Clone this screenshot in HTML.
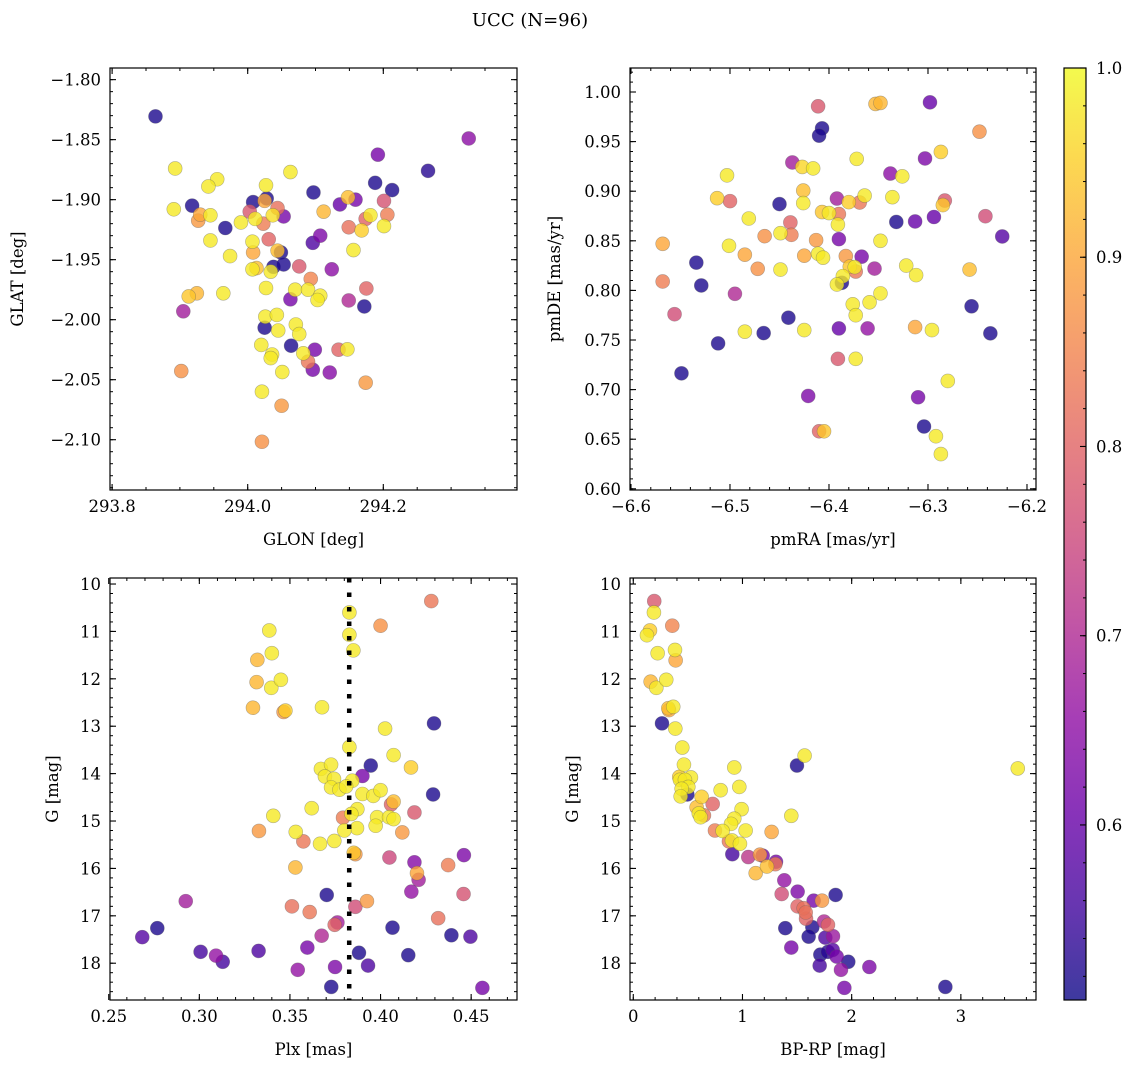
<!DOCTYPE html>
<html><head><meta charset="utf-8"><style>
body{margin:0;background:#fff;}
svg text{font-family:"DejaVu Serif","Liberation Serif",serif;fill:#000;}
</style></head><body>
<svg id="fig" width="1136" height="1067" xmlns="http://www.w3.org/2000/svg">
<defs><linearGradient id="plasma" x1="0" y1="1" x2="0" y2="0"></linearGradient></defs>
<text x="530" y="26" font-size="18" text-anchor="middle">UCC (N=96)</text>
</svg>
<script>
// ---- Panel 1: GLON vs GLAT ----
const p1x=[293.864,294.326,294.192,294.266,293.893,294.063,293.955,293.942,294.027,294.188,294.213,294.097,293.891,293.918,294.008,294.028,294.025,294.148,294.136,294.159,294.201,294.003,294.044,294.053,294.037,294.011,294.023,293.990,293.930,293.927,293.945,294.112,294.174,294.181,294.206,294.168,294.201,294.149,293.967,293.945,294.031,294.007,294.096,294.107,294.156,293.974,294.008,294.049,294.044,294.038,294.053,294.076,294.007,294.013,294.034,294.124,294.093,294.027,294.070,294.089,294.107,294.103,294.063,294.175,294.149,294.172,293.913,293.925,293.964,293.905,294.026,294.043,294.025,294.045,294.071,294.076,294.020,294.064,294.036,294.034,294.082,294.099,294.134,294.147,294.089,294.096,294.121,294.051,293.902,294.174,294.021,294.050,294.021];
const p1y=[-1.8306,-1.849,-1.8625,-1.876,-1.874,-1.877,-1.883,-1.889,-1.888,-1.886,-1.892,-1.894,-1.908,-1.905,-1.902,-1.899,-1.901,-1.898,-1.904,-1.900,-1.901,-1.910,-1.907,-1.914,-1.913,-1.916,-1.920,-1.919,-1.9125,-1.9175,-1.913,-1.910,-1.916,-1.913,-1.9125,-1.9256,-1.922,-1.923,-1.9236,-1.934,-1.933,-1.935,-1.936,-1.930,-1.942,-1.947,-1.944,-1.944,-1.9425,-1.956,-1.954,-1.9556,-1.958,-1.957,-1.960,-1.958,-1.966,-1.9736,-1.975,-1.975,-1.980,-1.9836,-1.983,-1.974,-1.984,-1.989,-1.9806,-1.978,-1.978,-1.993,-1.9975,-1.996,-2.0067,-2.009,-2.004,-2.012,-2.021,-2.0217,-2.029,-2.032,-2.028,-2.025,-2.025,-2.0247,-2.035,-2.0417,-2.044,-2.0436,-2.0428,-2.0525,-2.060,-2.0717,-2.1017];
const p1c=[0.52,0.65,0.62,0.53,0.98,0.98,0.98,0.98,0.98,0.52,0.52,0.52,0.98,0.52,0.52,0.52,0.90,0.93,0.60,0.62,0.77,0.78,0.82,0.62,0.97,0.98,0.84,0.98,0.90,0.88,0.98,0.92,0.80,0.98,0.84,0.95,0.98,0.82,0.52,0.98,0.80,0.98,0.57,0.63,0.98,0.98,0.90,0.52,0.93,0.52,0.52,0.78,0.98,0.93,0.98,0.65,0.85,0.98,0.98,0.98,0.98,0.98,0.62,0.80,0.70,0.52,0.94,0.92,0.98,0.68,0.98,0.98,0.52,0.98,0.98,0.98,0.98,0.52,0.98,0.98,0.98,0.62,0.80,0.98,0.83,0.62,0.64,0.98,0.87,0.88,0.98,0.88,0.87];
// ---- Panel 2: pmRA vs pmDE ----
const p2x=[-6.411,-6.353,-6.348,-6.298,-6.407,-6.410,-6.248,-6.372,-6.287,-6.303,-6.437,-6.427,-6.416,-6.503,-6.338,-6.326,-6.513,-6.500,-6.426,-6.426,-6.450,-6.392,-6.380,-6.369,-6.364,-6.336,-6.283,-6.285,-6.481,-6.407,-6.400,-6.390,-6.391,-6.439,-6.332,-6.313,-6.294,-6.242,-6.465,-6.438,-6.449,-6.413,-6.390,-6.348,-6.225,-6.568,-6.501,-6.485,-6.425,-6.411,-6.406,-6.383,-6.367,-6.534,-6.472,-6.449,-6.379,-6.373,-6.374,-6.354,-6.322,-6.312,-6.258,-6.568,-6.529,-6.386,-6.387,-6.392,-6.495,-6.348,-6.359,-6.376,-6.373,-6.556,-6.256,-6.441,-6.485,-6.466,-6.425,-6.390,-6.361,-6.313,-6.296,-6.237,-6.512,-6.391,-6.373,-6.549,-6.280,-6.421,-6.310,-6.410,-6.405,-6.304,-6.292,-6.287];
const p2y=[0.9856,0.988,0.989,0.9896,0.9634,0.956,0.960,0.9326,0.9396,0.933,0.929,0.9245,0.923,0.916,0.9178,0.915,0.893,0.890,0.9007,0.888,0.887,0.8926,0.889,0.8886,0.8956,0.894,0.8906,0.886,0.8725,0.879,0.878,0.877,0.8664,0.8685,0.869,0.8695,0.874,0.8748,0.8547,0.856,0.8577,0.8507,0.8517,0.850,0.8544,0.847,0.845,0.836,0.835,0.837,0.833,0.8346,0.834,0.828,0.8218,0.821,0.824,0.819,0.8235,0.822,0.825,0.8154,0.821,0.809,0.805,0.8144,0.8077,0.806,0.7966,0.797,0.788,0.786,0.775,0.776,0.784,0.7725,0.7584,0.757,0.760,0.7617,0.7617,0.763,0.760,0.7567,0.7466,0.731,0.731,0.7164,0.7087,0.6936,0.6923,0.658,0.658,0.6628,0.653,0.635];
const p2c=[0.78,0.92,0.92,0.60,0.52,0.52,0.87,0.98,0.95,0.63,0.68,0.96,0.98,0.98,0.65,0.98,0.95,0.80,0.93,0.98,0.52,0.68,0.95,0.83,0.98,0.98,0.78,0.94,0.98,0.94,0.98,0.83,0.98,0.80,0.52,0.60,0.60,0.76,0.87,0.84,0.98,0.88,0.62,0.98,0.58,0.90,0.98,0.90,0.90,0.98,0.98,0.88,0.62,0.52,0.87,0.98,0.94,0.83,0.98,0.68,0.98,0.98,0.93,0.84,0.52,0.98,0.52,0.98,0.70,0.98,0.98,0.98,0.98,0.76,0.52,0.52,0.98,0.52,0.98,0.60,0.66,0.90,0.98,0.52,0.52,0.78,0.98,0.52,0.98,0.63,0.62,0.80,0.94,0.52,0.98,0.98];
// ---- Panel 3: Plx vs G ----
const p3x=[0.428,0.3828,0.400,0.3828,0.385,0.3386,0.340,0.332,0.3316,0.3397,0.345,0.3296,0.3465,0.3475,0.3677,0.3828,0.4025,0.4295,0.4072,0.3946,0.4168,0.3671,0.3727,0.390,0.3693,0.3743,0.3844,0.3727,0.3773,0.381,0.390,0.396,0.400,0.4058,0.4072,0.429,0.362,0.3872,0.3839,0.3793,0.3981,0.4047,0.4072,0.4187,0.3408,0.3973,0.387,0.380,0.3329,0.3532,0.412,0.3574,0.3666,0.3745,0.3861,0.3852,0.4049,0.4187,0.446,0.4373,0.4201,0.421,0.353,0.417,0.4458,0.3703,0.2925,0.3511,0.3609,0.3861,0.3925,0.4318,0.3762,0.3747,0.4066,0.2768,0.2685,0.3675,0.4391,0.4496,0.3007,0.3327,0.3596,0.3881,0.4153,0.3092,0.3129,0.3543,0.3749,0.3931,0.3728,0.4562];
const p3y=[10.36,10.60,10.88,11.07,11.40,10.98,11.46,11.60,12.07,12.19,12.02,12.61,12.70,12.67,12.60,13.44,13.05,12.94,13.61,13.83,13.87,13.90,13.81,14.05,14.06,14.11,14.15,14.29,14.34,14.27,14.43,14.47,14.35,14.65,14.59,14.44,14.73,14.75,14.85,14.93,14.92,14.92,14.96,14.82,14.89,15.10,15.15,15.20,15.21,15.23,15.24,15.43,15.48,15.42,15.70,15.67,15.77,15.87,15.72,15.93,16.10,16.24,15.98,16.49,16.54,16.56,16.69,16.80,16.92,16.81,16.69,17.05,17.14,17.19,17.25,17.26,17.45,17.42,17.41,17.44,17.76,17.74,17.67,17.78,17.83,17.84,17.97,18.14,18.08,18.05,18.50,18.52];
const p3c=[0.83,0.98,0.87,0.98,0.98,0.98,0.98,0.92,0.92,0.98,0.98,0.92,0.88,0.95,0.98,0.98,0.98,0.52,0.98,0.52,0.95,0.98,0.98,0.62,0.98,0.98,0.98,0.98,0.98,0.98,0.98,0.98,0.98,0.80,0.93,0.52,0.98,0.98,0.98,0.84,0.98,0.98,0.98,0.78,0.98,0.98,0.98,0.98,0.88,0.98,0.88,0.83,0.98,0.98,0.88,0.94,0.75,0.64,0.63,0.84,0.90,0.68,0.92,0.66,0.77,0.52,0.68,0.82,0.83,0.76,0.88,0.82,0.68,0.80,0.52,0.52,0.58,0.70,0.52,0.57,0.56,0.57,0.62,0.52,0.52,0.66,0.56,0.66,0.63,0.57,0.52,0.62];
const plxRef=[0.3827];
// ---- Panel 4: BP-RP vs G ----
const p4x=[0.192,0.189,0.357,0.153,0.125,0.223,0.382,0.388,0.159,0.211,0.302,0.327,0.366,0.321,0.263,0.385,0.449,0.464,1.569,1.499,3.521,0.925,0.421,0.528,0.427,0.473,0.504,0.443,0.434,0.495,0.800,0.971,0.626,0.727,0.580,0.647,0.600,0.617,0.992,1.447,0.925,0.895,1.029,1.267,0.748,0.818,0.876,0.904,0.977,0.907,1.053,1.160,1.185,1.307,1.301,1.224,1.121,1.383,1.359,1.505,1.853,1.652,1.728,1.505,1.560,1.579,1.582,1.747,1.783,1.640,1.392,1.606,1.759,1.829,1.447,1.713,1.783,1.826,1.863,1.969,1.707,1.902,2.162,1.933,2.858];
const p4y=[10.36,10.60,10.88,10.98,11.08,11.46,11.39,11.61,12.06,12.19,12.02,12.66,12.59,12.62,12.94,13.05,13.45,13.81,13.62,13.83,13.89,13.87,14.07,14.08,14.13,14.13,14.28,14.32,14.48,14.44,14.35,14.28,14.49,14.64,14.71,14.88,14.84,14.92,14.75,14.89,14.95,15.06,15.20,15.23,15.20,15.21,15.43,15.41,15.48,15.70,15.76,15.71,15.73,15.86,15.91,15.96,16.10,16.25,16.54,16.49,16.56,16.68,16.68,16.80,16.84,16.93,17.06,17.12,17.19,17.24,17.26,17.44,17.46,17.43,17.67,17.82,17.76,17.72,17.86,17.97,18.05,18.14,18.08,18.52,18.50];
const p4c=[0.78,0.98,0.85,0.95,0.98,0.98,0.98,0.90,0.92,0.98,0.98,0.90,0.98,0.93,0.52,0.98,0.98,0.98,0.98,0.52,0.98,0.98,0.95,0.98,0.98,0.98,0.98,0.98,0.98,0.52,0.98,0.98,0.95,0.80,0.93,0.83,0.98,0.98,0.98,0.98,0.98,0.98,0.98,0.90,0.84,0.98,0.83,0.98,0.98,0.56,0.72,0.88,0.62,0.62,0.83,0.93,0.92,0.66,0.76,0.63,0.52,0.62,0.88,0.80,0.82,0.82,0.80,0.70,0.80,0.52,0.52,0.52,0.57,0.67,0.62,0.52,0.53,0.58,0.62,0.52,0.56,0.66,0.63,0.62,0.52];
// ---- tick labels ----
const p1xt=[293.8,294.0,294.2];
const p1yt=[-1.80,-1.85,-1.90,-1.95,-2.00,-2.05,-2.10];
const p2xt=[-6.6,-6.5,-6.4,-6.3,-6.2];
const p2yt=[0.60,0.65,0.70,0.75,0.80,0.85,0.90,0.95,1.00];
const p3xt=[0.25,0.30,0.35,0.40,0.45];
const gt=[10,11,12,13,14,15,16,17,18];
const p4xt=[0,1,2,3];
const cbt=[0.6,0.7,0.8,0.9,1.0];

const NS="http://www.w3.org/2000/svg";
const svg=document.getElementById('fig');
function mk(tag,attrs,parent){const e=document.createElementNS(NS,tag);for(const k in attrs)e.setAttribute(k,attrs[k]);(parent||svg).appendChild(e);return e;}
const stops=[[0,[13,8,135]],[0.1,[65,4,157]],[0.2,[106,0,168]],[0.3,[143,13,164]],[0.4,[177,42,144]],[0.5,[204,71,120]],[0.6,[225,100,98]],[0.7,[242,132,75]],[0.8,[252,166,54]],[0.9,[252,206,37]],[1,[240,249,33]]];
const VMIN=0.5075,VMAX=1.0;
function plasma(t){t=Math.max(0,Math.min(1,t));for(let i=1;i<stops.length;i++){if(t<=stops[i][0]){const a=stops[i-1],b=stops[i];const f=(t-a[0])/(b[0]-a[0]);const c=a[1].map((v,j)=>Math.round(v+(b[1][j]-v)*f));return `rgb(${c[0]},${c[1]},${c[2]})`;}}return 'rgb(240,249,33)';}
function cmap(v){return plasma((v-VMIN)/(VMAX-VMIN));}

function fmt(v,d){let s=v.toFixed(d);return s.replace('-','\u2212');}
function panel(cfg){
  const g=mk('g',{});
  
  
  const sx=v=>cfg.x0+(v-cfg.dx[0])/(cfg.dx[1]-cfg.dx[0])*(cfg.x1-cfg.x0);
  const sy=v=>cfg.y0+(v-cfg.dy[0])/(cfg.dy[1]-cfg.dy[0])*(cfg.y1-cfg.y0);
  const order=cfg.c.map((v,i)=>i).sort((a,b)=>cfg.c[a]-cfg.c[b]);
  order.forEach(i=>{
    const c=mk('circle',{cx:sx(cfg.x[i]),cy:sy(cfg.y[i]),r:7,fill:cmap(cfg.c[i]),'fill-opacity':0.8,stroke:'rgba(90,90,90,0.45)','stroke-width':0.6},g);
    
    
  });
  if(cfg.vline){cfg.vline.forEach(v=>{const l=mk('line',{x1:sx(v),x2:sx(v),y1:cfg.y0,y2:cfg.y1,stroke:'#000','stroke-width':4.5,'stroke-dasharray':'4.5 10'},g);
    
    });}
  const fr=mk('rect',{x:cfg.x0,y:cfg.y0,width:cfg.x1-cfg.x0,height:cfg.y1-cfg.y0,fill:'none',stroke:'#000','stroke-width':1.2},g);
  
  
  const lo=Math.min(...cfg.dx),hi=Math.max(...cfg.dx);
  for(let v=Math.ceil(lo/cfg.mx-1e-6)*cfg.mx;v<=hi+1e-9;v+=cfg.mx){const p=sx(v);mk('line',{x1:p,x2:p,y1:cfg.y1,y2:cfg.y1-3,stroke:'#000'},g);mk('line',{x1:p,x2:p,y1:cfg.y0,y2:cfg.y0+3,stroke:'#000'},g);}
  const ylo=Math.min(...cfg.dy),yhi=Math.max(...cfg.dy);
  for(let v=Math.ceil(ylo/cfg.my-1e-6)*cfg.my;v<=yhi+1e-9;v+=cfg.my){const p=sy(v);mk('line',{x1:cfg.x0,x2:cfg.x0+3,y1:p,y2:p,stroke:'#000'},g);mk('line',{x1:cfg.x1,x2:cfg.x1-3,y1:p,y2:p,stroke:'#000'},g);}
  cfg.xt.forEach(v=>{const p=sx(v);mk('line',{x1:p,x2:p,y1:cfg.y1,y2:cfg.y1-6,stroke:'#000','stroke-width':1.1},g);mk('line',{x1:p,x2:p,y1:cfg.y0,y2:cfg.y0+6,stroke:'#000','stroke-width':1.1},g);
    const t=mk('text',{x:p,y:cfg.y1+22,'font-size':16.5,'text-anchor':'middle'},g);t.textContent=fmt(v,cfg.xd);
    
    });
  cfg.yt.forEach(v=>{const p=sy(v);mk('line',{x1:cfg.x0,x2:cfg.x0+6,y1:p,y2:p,stroke:'#000','stroke-width':1.1},g);mk('line',{x1:cfg.x1,x2:cfg.x1-6,y1:p,y2:p,stroke:'#000','stroke-width':1.1},g);
    const t=mk('text',{x:cfg.x0-9,y:p+6,'font-size':16.5,'text-anchor':'end'},g);t.textContent=fmt(v,cfg.yd);
    
    });
  const xl=mk('text',{x:(cfg.x0+cfg.x1)/2,y:cfg.y1+55,'font-size':16.5,'text-anchor':'middle'},g);xl.textContent=cfg.xlab;
  
  
  const yl=mk('text',{x:cfg.ylx,y:(cfg.y0+cfg.y1)/2,'font-size':16.5,'text-anchor':'middle',transform:`rotate(-90 ${cfg.ylx} ${(cfg.y0+cfg.y1)/2})`},g);yl.textContent=cfg.ylab;
  
  
}
panel({name:'glon-glat-panel',x0:110,x1:517,y0:68,y1:490,dx:[293.7969,294.3972],dy:[-1.7903,-2.1419],x:p1x,y:p1y,c:p1c,xt:p1xt,yt:p1yt,xd:1,yd:2,mx:0.05,my:0.01,xlab:'GLON [deg]',ylab:'GLAT [deg]',ylx:23});
panel({name:'proper-motion-panel',x0:630,x1:1036,y0:68,y1:490,dx:[-6.601,-6.1909],dy:[1.0242,0.5988],x:p2x,y:p2y,c:p2c,xt:p2xt,yt:p2yt,xd:1,yd:2,mx:0.02,my:0.01,xlab:'pmRA [mas/yr]',ylab:'pmDE [mas/yr]',ylx:560});
panel({name:'parallax-panel',x0:110,x1:517,y0:578,y1:1000,dx:[0.2507,0.4753],dy:[9.873,18.776],x:p3x,y:p3y,c:p3c,xt:p3xt,yt:gt,xd:2,yd:0,mx:0.01,my:0.2,xlab:'Plx [mas]',ylab:'G [mag]',ylx:58,vline:plxRef});
panel({name:'cmd-panel',x0:630,x1:1036,y0:578,y1:1000,dx:[-0.030,3.688],dy:[9.873,18.776],x:p4x,y:p4y,c:p4c,xt:p4xt,yt:gt,xd:0,yd:0,mx:0.2,my:0.2,xlab:'BP-RP [mag]',ylab:'G [mag]',ylx:578});

const grad=document.getElementById('plasma');
for(let i=0;i<=20;i++){mk('stop',{offset:i/20,'stop-color':plasma(i/20)},grad);}
const cb=mk('g',{});


mk('rect',{x:1064,y:68,width:22,height:932,fill:'url(#plasma)','fill-opacity':0.8},cb);
mk('rect',{x:1064,y:68,width:22,height:932,fill:'none',stroke:'#000','stroke-width':1.2},cb);
const cy=v=>1000-(v-VMIN)/(VMAX-VMIN)*932;
for(let v=0.52;v<=1.0001;v+=0.02){const p=cy(v);mk('line',{x1:1086,x2:1083,y1:p,y2:p,stroke:'#000'},cb);}
cbt.forEach(v=>{const p=cy(v);mk('line',{x1:1086,x2:1080,y1:p,y2:p,stroke:'#000','stroke-width':1.1},cb);
  const t=mk('text',{x:1096,y:p+6,'font-size':16.5},cb);t.textContent=v.toFixed(1);
  
  });
</script>
</body></html>
